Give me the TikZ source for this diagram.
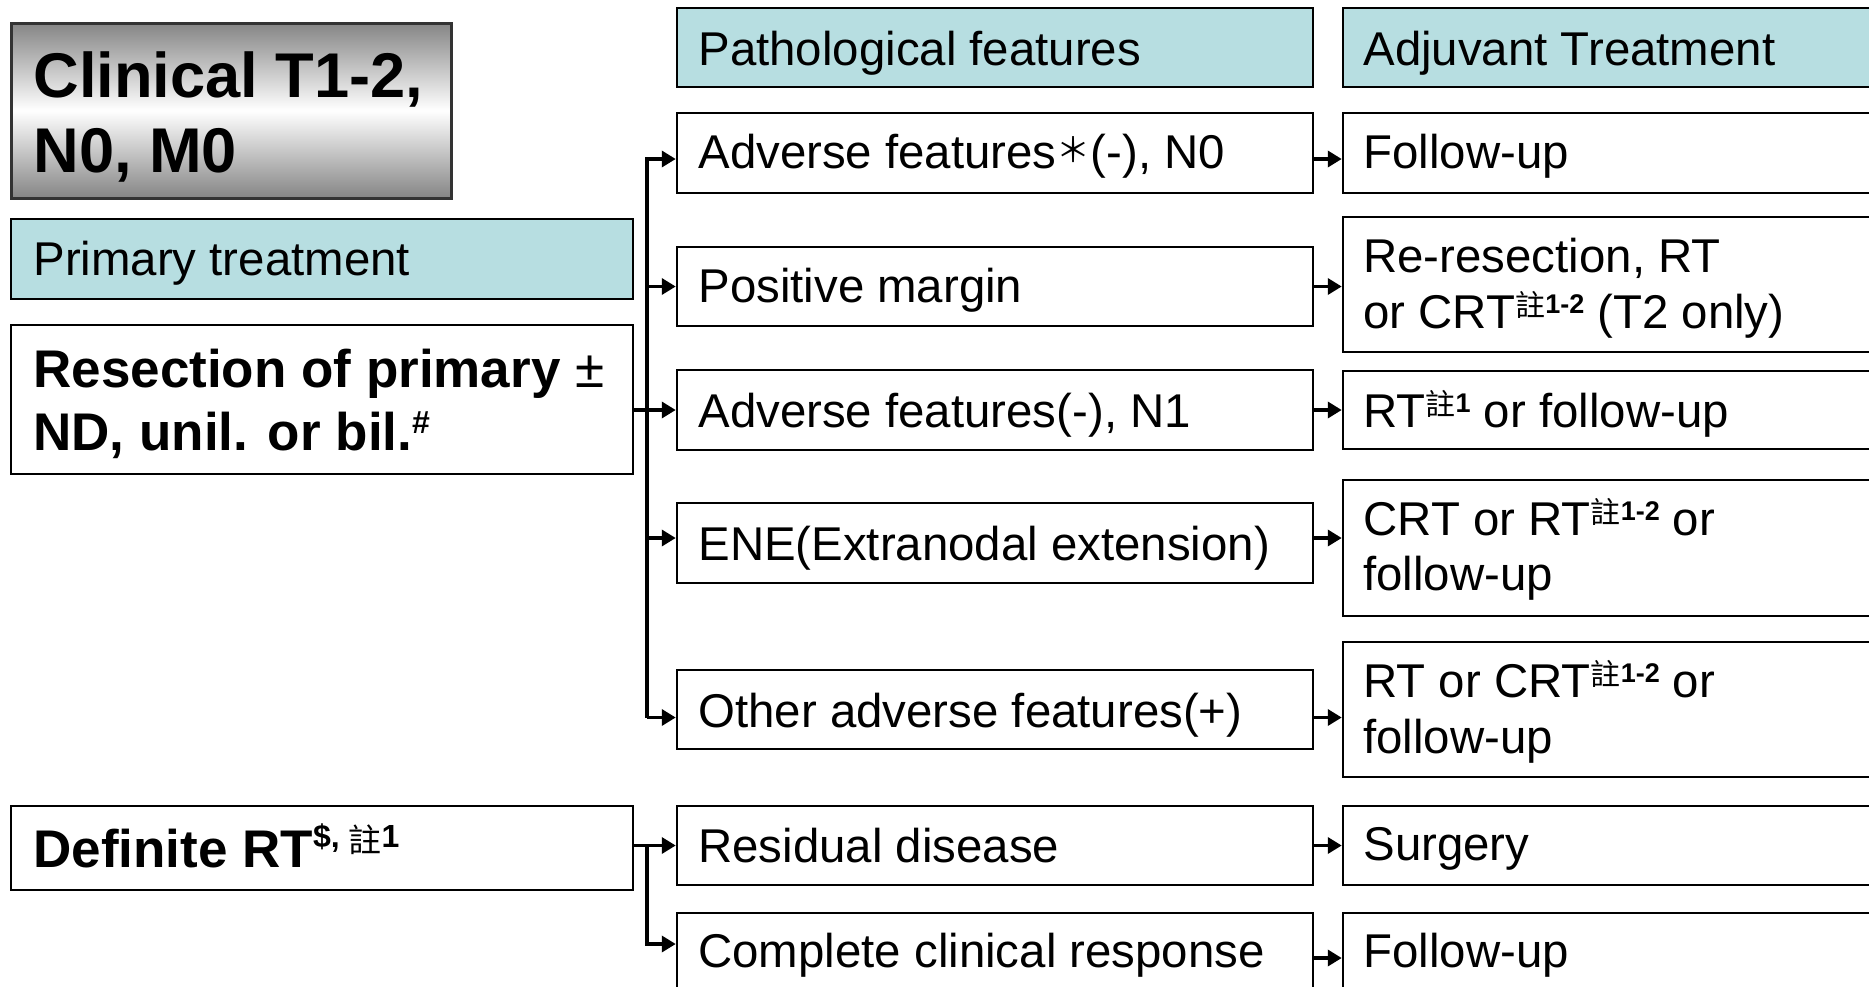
\documentclass[tikz,border=0pt]{standalone}
\usepackage{fontspec}
\setmainfont{Liberation Sans}
\newfontfamily\cjk{Noto Sans CJK TC}
\usetikzlibrary{arrows.meta,fit,calc}
\definecolor{hdr}{HTML}{B7DEE1}
\definecolor{cling}{HTML}{858585}
\newcommand{\zhusup}[1]{\raisebox{6pt}{\cjk\fontsize{15}{15}\selectfont 註}\raisebox{7.5pt}{\fontsize{13.5}{14}\selectfont\bfseries #1}}
\begin{document}
\begin{tikzpicture}[x=0.5pt,y=-0.5pt,
  box/.style={draw=black, line width=1.25pt, inner sep=0pt, fill=white},
  hbox/.style={box, fill=hdr},
  clinbox/.style={draw=black!80, line width=1.5pt, inner sep=0pt, top color=cling, bottom color=cling, middle color=white},
  txt/.style={anchor=base west, inner sep=0pt, font=\fontsize{23.7}{28}\selectfont},
  cltxt/.style={anchor=base west, inner sep=0pt, font=\fontsize{31.6}{36}\selectfont\bfseries},
  rstxt/.style={anchor=base west, inner sep=0pt, font=\fontsize{26.5}{31}\selectfont\bfseries},
  conn/.style={line width=1.75pt, -{Triangle[length=7pt,width=8pt]}}]

\useasboundingbox (0,0) rectangle (1869,986);
\fill[white] (0,0) rectangle (1869,986);

% left column
\node[clinbox, fit={(11,23) (451,198)}] (clin) {};
\node[hbox, fit={(11,219) (633,299)}] (prim) {};
\node[box, fit={(11,325) (633,474)}] (resec) {};
\node[box, fit={(11,806) (633,890)}] (defin) {};

% middle column
\node[hbox, fit={(677,8) (1313,87)}] (hpath) {};
\node[box, fit={(677,113) (1313,193)}] (m1) {};
\node[box, fit={(677,247) (1313,326)}] (m2) {};
\node[box, fit={(677,370) (1313,450)}] (m3) {};
\node[box, fit={(677,503) (1313,583)}] (m4) {};
\node[box, fit={(677,670) (1313,749)}] (m5) {};
\node[box, fit={(677,806) (1313,885)}] (m6) {};
\node[box, fit={(677,913) (1313,1003)}] (m7) {};

% right column
\node[hbox, fit={(1343,8) (1890,87)}] (hadj) {};
\node[box, fit={(1343,113) (1890,193)}] (r1) {};
\node[box, fit={(1343,217) (1890,352)}] (r2) {};
\node[box, fit={(1343,371) (1890,449)}] (r3) {};
\node[box, fit={(1343,480) (1890,616)}] (r4) {};
\node[box, fit={(1343,642) (1890,777)}] (r5) {};
\node[box, fit={(1343,806) (1890,885)}] (r6) {};
\node[box, fit={(1343,913) (1890,1003)}] (r7) {};

% texts left
\node[cltxt] (clin1) at (33,97) {Clinical T1-2,};
\node[cltxt] (clin2) at (33,172) {N0, M0};
\node[txt] (primt) at (33,275) {Primary treatment};
\node[rstxt] (res1) at (33,387) {Resection of primary {\mdseries ±}};
\node[rstxt] (res2) at (33,450) {ND, unil. or bil.\raisebox{8.5pt}{\fontsize{16}{16}\selectfont\bfseries\#}};
\node[rstxt] (deft) at (33,867) {Definite RT\raisebox{10pt}{\fontsize{16}{16}\selectfont\bfseries\$, }\raisebox{7.5pt}{\cjk\mdseries\fontsize{16.5}{16}\selectfont 註}\raisebox{10pt}{\fontsize{16}{16}\selectfont\bfseries 1}};

% texts middle
\node[txt] (pt0) at (698,65) {Pathological features};
\node[txt] (pt1) at (698,168) {Adverse features\raisebox{3pt}{\cjk\fontsize{17}{17}\selectfont ＊}(-), N0};
\node[txt] (pt2) at (698,302) {Positive margin};
\node[txt] (pt3) at (698,427) {Adverse features(-), N1};
\node[txt] (pt4) at (698,560) {ENE(Extranodal extension)};
\node[txt] (pt5) at (698,727) {Other adverse features(+)};
\node[txt] (pt6) at (698,862) {Residual disease};
\node[txt] (pt7) at (698,967) {Complete clinical response};

% texts right
\node[txt] (at0) at (1363,65) {Adjuvant Treatment};
\node[txt] (at1) at (1363,168) {Follow-up};
\node[txt] (at2a) at (1363,272) {Re-resection, RT};
\node[txt] (at2b) at (1363,328) {or CRT\zhusup{1-2} (T2 only)};
\node[txt] (at3) at (1363,427) {RT\zhusup{1} or follow-up};
\node[txt] (at4a) at (1363,535) {CRT or RT\zhusup{1-2} or};
\node[txt] (at4b) at (1363,590) {follow-up};
\node[txt] (at5a) at (1363,697) {RT or CRT\zhusup{1-2} or};
\node[txt] (at5b) at (1363,753) {follow-up};
\node[txt] (at6) at (1363,860) {Surgery};
\node[txt] (at7) at (1363,967) {Follow-up};

% connectors from primary treatment
\coordinate (tr) at (647,0);
\draw[conn] (resec.east |- m3.west) -- (m3.west);
\draw[conn] ($(tr |- m5.west)+(0,8)$) -- ($(tr |- m1.west)+(0,6)$) -- ($(m1.west)+(0,6)$);
\draw[conn] (tr |- m2.west) -- (m2.west);
\draw[conn] ($(tr |- m4.west)+(0,-5)$) -- ($(m4.west)+(0,-5)$);
\draw[conn] ($(tr |- m5.west)+(0,8)$) -- ($(m5.west)+(0,8)$);

% connectors from definite RT
\draw[conn] (defin.east |- m6.west) -- (m6.west);
\draw[conn] (tr |- m6.west) |- ($(m7.west)+(0,-14)$);

% middle to right
\draw[conn] ($(m1.east)+(0,6)$) -- ($(m1.east -| r1.west)+(0,6)$);
\draw[conn] (m2.east) -- (m2.east -| r2.west);
\draw[conn] (m3.east) -- (m3.east -| r3.west);
\draw[conn] ($(m4.east)+(0,-5)$) -- ($(m4.east -| r4.west)+(0,-5)$);
\draw[conn] ($(m5.east)+(0,8)$) -- ($(m5.east -| r5.west)+(0,8)$);
\draw[conn] (m6.east) -- (m6.east -| r6.west);
\draw[conn] (m7.east) -- (m7.east -| r7.west);
\end{tikzpicture}
\end{document}
